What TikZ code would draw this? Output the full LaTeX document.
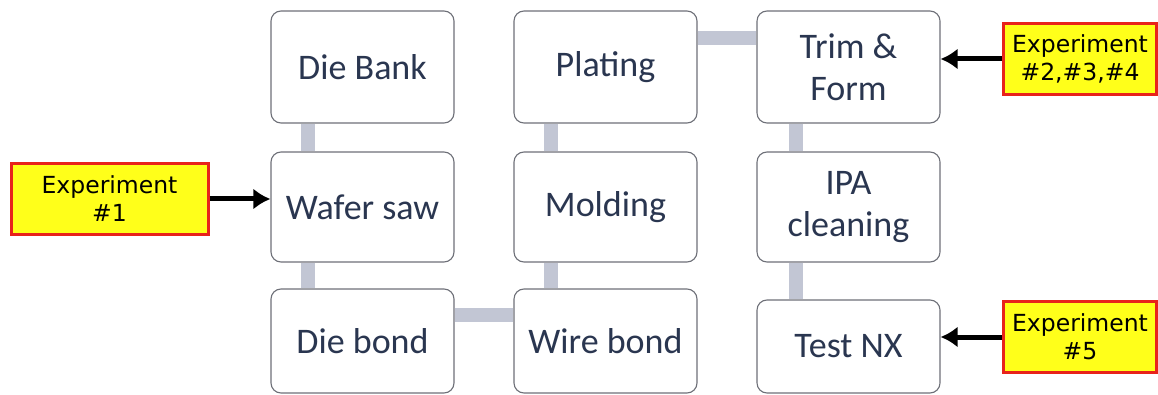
\documentclass[tikz,border=0pt]{standalone}
\usepackage{fontspec}
\setmainfont{Carlito}
\newfontfamily\expfont{DejaVu Sans}
\usetikzlibrary{arrows.meta}
\definecolor{boxtext}{HTML}{2A3650}
\definecolor{boxline}{HTML}{6E7078}
\definecolor{connc}{HTML}{C2C6D4}
\definecolor{expred}{HTML}{E8231B}
\definecolor{expyel}{HTML}{FFFF1A}
\tikzset{
  stepbox/.style={draw=boxline, line width=1.1pt, rounded corners=10pt, fill=white,
    minimum width=183pt, align=center, text=boxtext,
    font=\fontsize{36}{42}\selectfont, inner sep=0pt},
  expbox/.style={draw=expred, fill=expyel, line width=3pt, align=center,
    font=\expfont\fontsize{23.5}{28}\selectfont, inner sep=0pt, minimum height=71pt},
  conn/.style={connc, line width=14pt},
  exparrow/.style={black, line width=5pt, -{Latex[length=17pt,width=21pt]}}
}
\begin{document}
\begin{tikzpicture}[x=1pt,y=-1pt]
\useasboundingbox (0,0) rectangle (1158,395);
% column 1
\node[stepbox, minimum height=112pt] (diebank) at (362.5,67) {Die Bank};
\node[stepbox, minimum height=110pt] (wafer) at (362.5,207) {Wafer saw};
\node[stepbox, minimum height=104pt] (diebond) at (362.5,341) {Die bond};
% column 2
\node[stepbox, minimum height=112pt] (plating) at (605.5,67) {Plating};
\node[stepbox, minimum height=110pt] (molding) at (605.5,207) {Molding};
\node[stepbox, minimum height=104pt] (wirebond) at (605.5,341) {Wire bond};
% column 3
\node[stepbox, minimum height=112pt] (trim) at (848.5,67) {Trim \&\\Form};
\node[stepbox, minimum height=110pt] (ipa) at (848.5,207) {IPA\\cleaning};
\node[stepbox, minimum height=93pt] (testnx) at (848.5,346.5) {Test NX};
% connectors
\draw[conn] ([xshift=-55pt]diebank.south) -- ([xshift=-55pt]wafer.north);
\draw[conn] ([xshift=-55pt]wafer.south) -- ([xshift=-55pt]diebond.north);
\draw[conn] ([yshift=26pt]diebond.east) -- ([yshift=26pt]wirebond.west);
\draw[conn] ([xshift=-55pt]wirebond.north) -- ([xshift=-55pt]molding.south);
\draw[conn] ([xshift=-55pt]molding.north) -- ([xshift=-55pt]plating.south);
\draw[conn] ([yshift=29pt]plating.east) -- ([yshift=29pt]trim.west);
\draw[conn] ([xshift=-53pt]trim.south) -- ([xshift=-53pt]ipa.north);
\draw[conn] ([xshift=-53pt]ipa.south) -- ([xshift=-53pt]testnx.north);
% experiments
\node[expbox, minimum width=197pt] (exp1) at (109.5,199) {Experiment\\\#1};
\node[expbox, minimum width=153pt] (exp2) at (1080,59) {Experiment\\\#2,\#3,\#4};
\node[expbox, minimum width=153pt] (exp5) at (1080,337) {Experiment\\\#5};
\draw[exparrow] (exp1.east) -- (wafer.west |- exp1.east);
\draw[exparrow] (exp2.west) -- (trim.east |- exp2.west);
\draw[exparrow] (exp5.west) -- (testnx.east |- exp5.west);
\end{tikzpicture}
\end{document}
